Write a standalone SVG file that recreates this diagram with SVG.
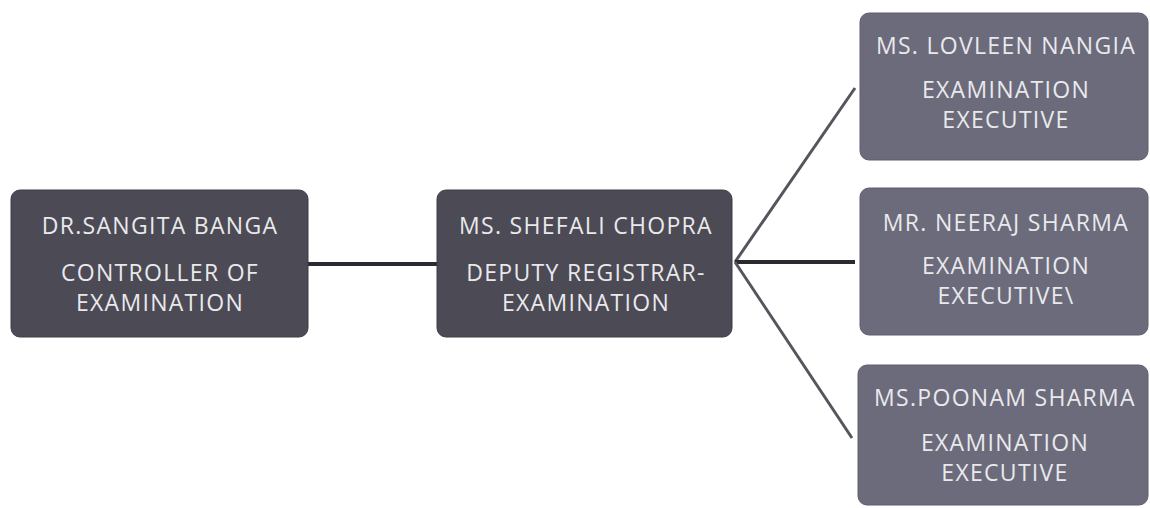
<svg xmlns="http://www.w3.org/2000/svg" width="1150" height="508" viewBox="0 0 1150 508">
<style>
.dark{fill:#4b4a55;stroke:#3e3d47;stroke-width:1}
.light{fill:#6c6b7c;stroke:#5e5e6c;stroke-width:1}
text{font-family:"Open Sans","Liberation Sans",sans-serif;font-size:23px;letter-spacing:1.3px;fill:#e9e9ec;text-anchor:middle}
.conn{stroke:#2a2a30;stroke-width:4;fill:none}
.conn2{stroke:#55555e;stroke-width:3;fill:none}
</style>
<rect width="1150" height="508" fill="#ffffff"/>
<g id="connectors">
<line class="conn" x1="308" y1="264" x2="437" y2="264"/>
<line class="conn2" x1="735" y1="262" x2="855" y2="88"/>
<line class="conn" x1="735" y1="262" x2="855" y2="262"/>
<line class="conn2" x1="735" y1="262" x2="852" y2="438"/>
</g>
<g id="node-banga">
<rect class="dark" x="11" y="190" width="297" height="147" rx="9"/>
<text x="160" y="234">DR.SANGITA BANGA</text>
<text x="160" y="281">CONTROLLER OF</text>
<text x="160" y="311">EXAMINATION</text>
</g>
<g id="node-chopra">
<rect class="dark" x="437" y="190" width="295" height="147" rx="9"/>
<text x="586" y="234">MS. SHEFALI CHOPRA</text>
<text x="586" y="281">DEPUTY REGISTRAR-</text>
<text x="586" y="311">EXAMINATION</text>
</g>
<g id="node-nangia">
<rect class="light" x="860" y="13" width="288" height="147" rx="9"/>
<text x="1006" y="54">MS. LOVLEEN NANGIA</text>
<text x="1006" y="98">EXAMINATION</text>
<text x="1006" y="128">EXECUTIVE</text>
</g>
<g id="node-neeraj">
<rect class="light" x="860" y="188" width="288" height="147" rx="9"/>
<text x="1006" y="231">MR. NEERAJ SHARMA</text>
<text x="1006" y="274">EXAMINATION</text>
<text x="1006" y="304">EXECUTIVE\</text>
</g>
<g id="node-poonam">
<rect class="light" x="858" y="365" width="290" height="140" rx="9"/>
<text x="1005" y="406">MS.POONAM SHARMA</text>
<text x="1005" y="451">EXAMINATION</text>
<text x="1005" y="481">EXECUTIVE</text>
</g>
</svg>
